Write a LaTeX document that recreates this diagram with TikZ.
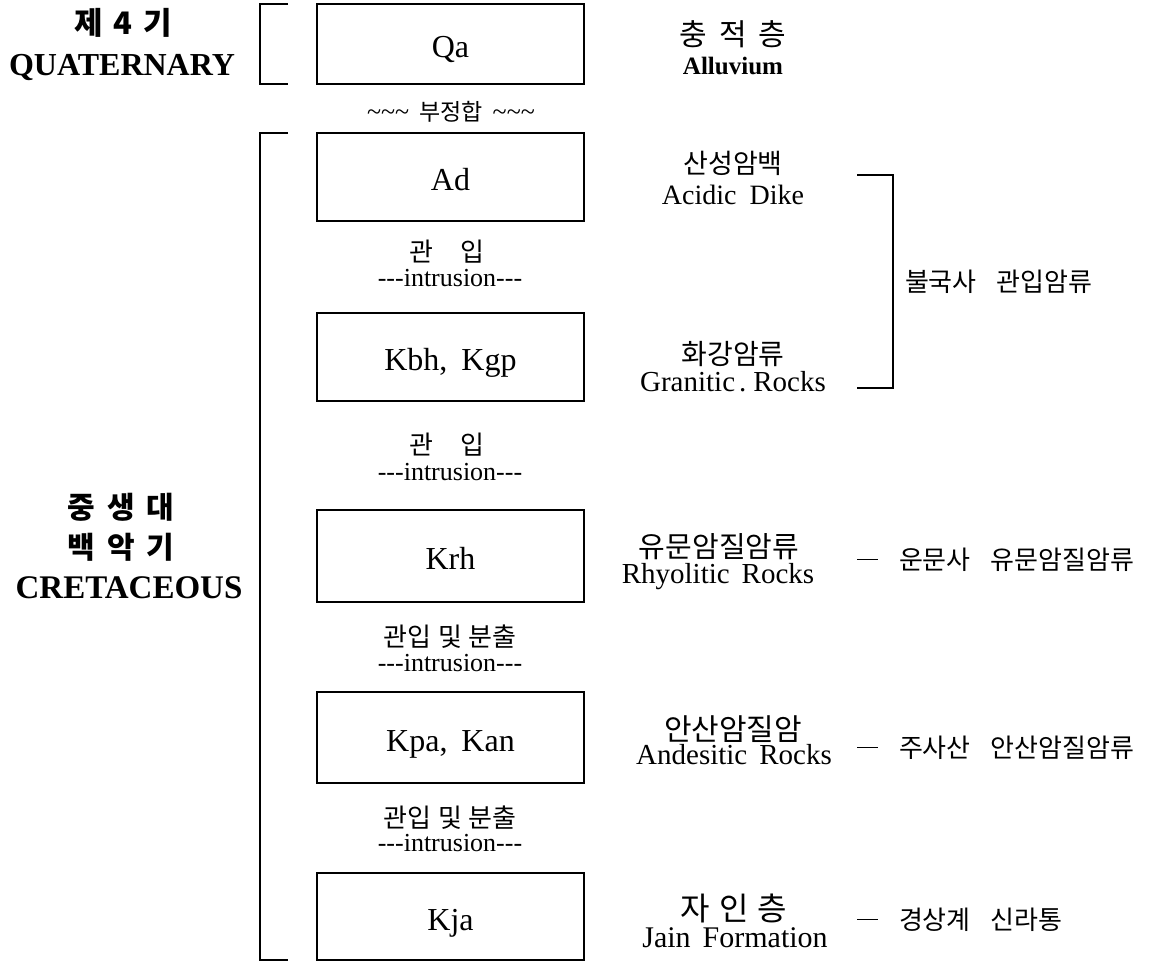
\documentclass[tikz,border=0pt]{standalone}
\usepackage{fontspec}
\setmainfont{Liberation Serif}
\newfontfamily\kr{Noto Sans CJK KR}
\usetikzlibrary{calc}
\newcommand\fsz[1]{\fontsize{#1pt}{#1pt}\selectfont}
\newcommand\tld{{\rmfamily\fsz{26}\textasciitilde\textasciitilde\textasciitilde}}
\newcommand\intr{-{}-{}-intrusion-{}-{}-}
\newcommand\dsh{\rule[0.36em]{21pt}{1.2pt}\hspace{21pt}}
\begin{document}
\begin{tikzpicture}[x=1pt,y=-1pt,
  box/.style={draw,line width=2.2pt,minimum width=267pt,inner sep=0pt,outer sep=0pt,font=\fsz{32},text height=27pt,text depth=0pt},
  lat/.style={inner sep=0pt,outer sep=0pt,anchor=base,yshift={-0.33*#1},font=\fsz{#1}},
  latb/.style={inner sep=0pt,outer sep=0pt,anchor=base,yshift={-0.33*#1},font=\bfseries\fsz{#1}},
  kor/.style={inner sep=0pt,outer sep=0pt,anchor=base,yshift={-0.37*#1},font=\kr\fsz{#1}},
  korb/.style={inner sep=0pt,outer sep=0pt,anchor=base,yshift={-0.37*#1},font=\kr\bfseries\fsz{#1}},
  gloss/.style={inner sep=0pt,outer sep=0pt,anchor=base west,yshift={-0.37*#1},font=\kr\fsz{#1}},
  brk/.style={line width=2.2pt},
  rbrk/.style={line width=1.3pt}]
\useasboundingbox (0,0) rectangle (1161,962);
% left labels
\node[korb=31] (q4) at (123,23) {제\hspace{11pt}4\hspace{11pt}기};
\node[latb=32] (quat) at (122,65) {QUATERNARY};
\node[korb=30] (c1) at (121,507) {중\hspace{12pt}생\hspace{12pt}대};
\node[korb=30] (c2) at (121,547) {백\hspace{12pt}악\hspace{12pt}기};
\node[latb=33] (cret) at (129,588) {CRETACEOUS};
% boxes
\node[box,minimum height=80pt] (qa) at (450.5,44) {Qa};
\node[box,minimum height=88pt] (ad) at (450.5,177) {Ad};
\node[box,minimum height=88pt] (kbh) at (450.5,357) {Kbh,\hspace{14pt}Kgp};
\node[box,minimum height=92pt] (krh) at (450.5,556) {Krh};
\node[box,minimum height=91pt] (kpa) at (450.5,737.5) {Kpa,\hspace{14pt}Kan};
\node[box,minimum height=87pt] (kja) at (450.5,916.5) {Kja};
% brackets
\draw[brk] ($(qa.north west)+(-29,0)$) -- ++(-28,0) |- ($(qa.south west)+(-29,0)$);
\draw[brk] ($(ad.north west)+(-29,0)$) -- ++(-28,0) |- ($(kja.south west)+(-29,0)$);
% middle labels
\node[kor=23] (unc) at (451,112) {\tld\hspace{10pt}부정합\hspace{10pt}\tld};
\node[kor=26] (i1k) at (447,252) {관\hspace{28pt}입};
\node[lat=26] (i1e) at (450,278) {\intr};
\node[kor=26] (i2k) at (447,445) {관\hspace{28pt}입};
\node[lat=26] (i2e) at (450,472) {\intr};
\node[kor=26] (i3k) at (450,637) {관입\hspace{7pt}및\hspace{7pt}분출};
\node[lat=26] (i3e) at (450,663) {\intr};
\node[kor=26] (i4k) at (450,818) {관입\hspace{7pt}및\hspace{7pt}분출};
\node[lat=26] (i4e) at (450,843) {\intr};
% right labels
\node[kor=30] (r1k) at (733,34) {충\hspace{12pt}적\hspace{12pt}층};
\node[latb=25] (r1e) at (733,66) {Alluvium};
\node[kor=27] (r2k) at (733,164) {산성암백};
\node[lat=28] (r2e) at (733,195) {Acidic\hspace{13pt}Dike};
\node[kor=28] (r3k) at (733,354) {화강암류};
\node[lat=29] (r3e) at (733,382) {Granitic\hspace{4pt}.\hspace{7pt}Rocks};
\node[kor=29] (r4k) at (719,547) {유문암질암류};
\node[lat=29] (r4e) at (718,574) {Rhyolitic\hspace{12pt}Rocks};
\node[kor=30] (r5k) at (733,729) {안산암질암};
\node[lat=29] (r5e) at (734,755) {Andesitic\hspace{12pt}Rocks};
\node[kor=32] (r6k) at (734,909) {자\hspace{9pt}인\hspace{9pt}층};
\node[lat=30] (r6e) at (735,938) {Jain\hspace{12pt}Formation};
% right bracket and glosses
\coordinate (rbt) at (857,175);
\coordinate (rbb) at (857,388);
\draw[rbrk] (rbt) -- ++(36,0) |- (rbb);
\node[gloss=26] (g1) at (905,282) {불국사\hspace{20pt}관입암류};
\node[gloss=26] (g2) at (857,560) {\dsh 운문사\hspace{20pt}유문암질암류};
\node[gloss=26] (g3) at (857,748) {\dsh 주사산\hspace{20pt}안산암질암류};
\node[gloss=26] (g4) at (857,920) {\dsh 경상계\hspace{20pt}신라통};
\end{tikzpicture}
\end{document}
